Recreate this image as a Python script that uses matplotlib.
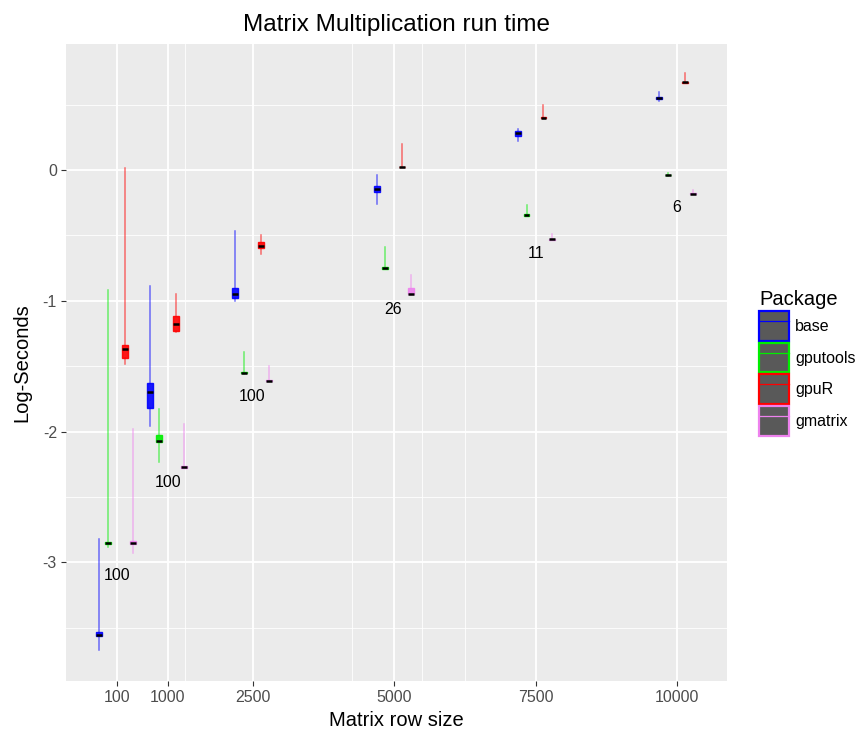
import matplotlib
matplotlib.use("Agg")
import matplotlib.pyplot as plt
from matplotlib.patches import Patch
from matplotlib.lines import Line2D

plt.rcParams['font.family'] = ['Liberation Sans', 'DejaVu Sans']

# matrix row sizes (x groups)
sizes = [100, 1000, 2500, 5000, 7500, 10000]
packages = ['base', 'gputools', 'gpuR', 'gmatrix']
colors = {'base': '#0000FF', 'gputools': '#00EE00', 'gpuR': '#FF0000', 'gmatrix': '#EE82EE'}

# log-seconds box stats per package: (whislo, q1, median, q3, whishi) for each size
base_stats = [(-3.67, -3.56, -3.555, -3.53, -2.82),
              (-1.96, -1.82, -1.70, -1.63, -0.885),
              (-1.00, -0.98, -0.95, -0.90, -0.47),
              (-0.26, -0.17, -0.145, -0.12, -0.04),
              (0.22, 0.26, 0.28, 0.30, 0.31),
              (0.53, 0.54, 0.55, 0.56, 0.595)]
gputools_stats = [(-2.88, -2.86, -2.85, -2.845, -0.92),
                  (-2.23, -2.08, -2.075, -2.03, -1.83),
                  (-1.56, -1.555, -1.55, -1.545, -1.39),
                  (-0.755, -0.755, -0.75, -0.745, -0.59),
                  (-0.355, -0.35, -0.345, -0.34, -0.27),
                  (-0.045, -0.042, -0.04, -0.038, -0.025)]
gpur_stats = [(-1.48, -1.44, -1.37, -1.34, 0.015),
              (-1.24, -1.23, -1.18, -1.12, -0.95),
              (-0.64, -0.60, -0.585, -0.55, -0.50),
              (0.02, 0.02, 0.023, 0.026, 0.20),
              (0.395, 0.397, 0.40, 0.403, 0.50),
              (0.665, 0.667, 0.67, 0.673, 0.74)]
gmatrix_stats = [(-2.93, -2.86, -2.85, -2.835, -1.98),
                 (-2.28, -2.275, -2.27, -2.265, -1.94),
                 (-1.615, -1.612, -1.61, -1.605, -1.50),
                 (-0.955, -0.95, -0.945, -0.90, -0.80),
                 (-0.535, -0.532, -0.53, -0.525, -0.49),
                 (-0.185, -0.182, -0.18, -0.178, -0.15)]
dodge = [-310, -160, 140, 290]

# count labels under each group
count_labels = ['100', '100', '100', '26', '11', '6']
count_x = [100, 1000, 2480, 4980, 7500, 9990]
count_y = [-3.10, -2.39, -1.735, -1.07, -0.635, -0.29]

all_stats = {'base': base_stats, 'gputools': gputools_stats,
             'gpuR': gpur_stats, 'gmatrix': gmatrix_stats}

fig = plt.figure(figsize=(8.61, 7.36), dpi=100)
ax = fig.add_axes([66 / 861, 1 - 681 / 736, 661 / 861, 637 / 736])
ax.set_facecolor('#EBEBEB')
for s in ax.spines.values():
    s.set_visible(False)

# grid
for v in [-3.5, -2.5, -1.5, -0.5, 0.5]:
    ax.axhline(v, color='white', lw=0.6, zorder=0)
for v in [1300, 4250, 5500, 6250]:
    ax.axvline(v, color='white', lw=0.6, zorder=0)
for v in [-3, -2, -1, 0]:
    ax.axhline(v, color='white', lw=1.3, zorder=0.5)
for v in sizes:
    ax.axvline(v, color='white', lw=1.3, zorder=0.5)

for pkg, off in zip(packages, dodge):
    c = colors[pkg]
    stats = []
    for st in all_stats[pkg]:
        lo, q1, med, q3, hi = st
        stats.append(dict(whislo=lo, q1=q1, med=med, q3=q3, whishi=hi, fliers=[]))
    pos = [s + off for s in sizes]
    ax.bxp(stats, positions=pos, widths=105, patch_artist=True, showcaps=False,
           showfliers=False, manage_ticks=False,
           boxprops=dict(facecolor=c, edgecolor=c, lw=1.0, alpha=0.9),
           whiskerprops=dict(color=c, lw=1.1, alpha=0.55),
           medianprops=dict(color='black', lw=1.8, solid_capstyle='butt'))

for t, x, y in zip(count_labels, count_x, count_y):
    ax.text(x, y, t, ha='center', va='center', fontsize=11.5, color='black')

ax.set_xlim(-801, 10884)
ax.set_ylim(-3.907, 0.963)
ax.set_xticks(sizes)
ax.set_xticklabels([str(s) for s in sizes])
ax.set_yticks([-3, -2, -1, 0])
ax.set_yticklabels(['-3', '-2', '-1', '0'])
ax.tick_params(axis='both', length=3.5, width=0.8, color='#333333',
               labelsize=11.5, labelcolor='#4D4D4D', pad=3)
ax.set_xlabel('Matrix row size', fontsize=14.5, labelpad=4)
ax.set_ylabel('Log-Seconds', fontsize=14.5, labelpad=8)
ax.set_title('Matrix Multiplication run time', fontsize=17.5, pad=9)

handles = []
for pkg in packages:
    c = colors[pkg]
    handles.append((Patch(facecolor='#595959', edgecolor=c, lw=1.6),
                    Line2D([], [], color=c, lw=0.9)))
leg = fig.legend(handles, packages, loc='center left', bbox_to_anchor=(751 / 861, 1 - 363 / 736),
                 title='Package', fontsize=11.5, title_fontsize=14.5, frameon=False,
                 handlelength=1.85, handleheight=2.48, labelspacing=0.12,
                 handletextpad=0.4, borderpad=0, alignment='left')

fig.savefig('out.png', dpi=100)
